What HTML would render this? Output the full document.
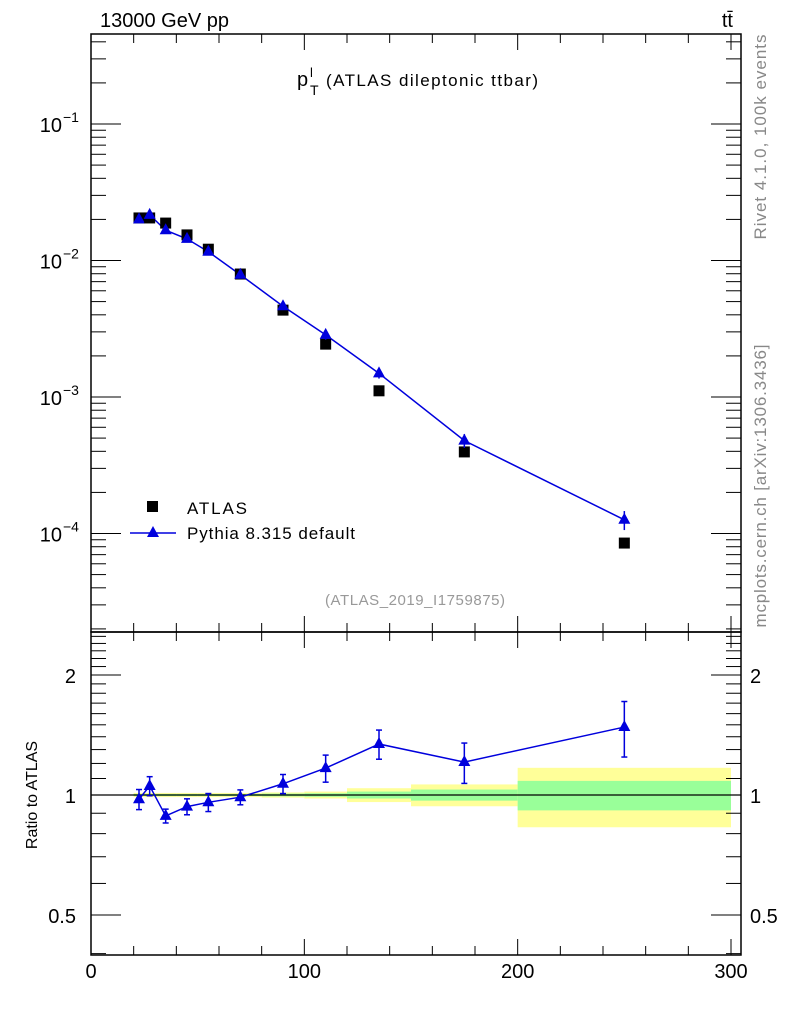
<!DOCTYPE html>
<html><head><meta charset="utf-8"><style>
body{margin:0;background:#fff;}
svg{display:block;font-family:"Liberation Sans",sans-serif;}
</style></head><body>
<svg id="c" width="786" height="1024" xmlns="http://www.w3.org/2000/svg"></svg>
<script>
const xCenters=[22.5,27.5,35,45,55,70,90,110,135,175,250];
const atlasVals=[0.0205,0.0205,0.0188,0.0154,0.0121,0.00796,0.00433,0.00244,0.00111,0.000396,0.0000851];
const pythiaVals=[0.0200,0.0216,0.01666,0.0144,0.0116,0.00786,0.00462,0.00285,0.00149,0.000479,0.000126];
const pythiaRelErr=[0.058,0.055,0.04,0.046,0.052,0.043,0.055,0.078,0.084,0.116,0.159];
const binEdges=[20,25,30,40,50,60,80,100,120,150,200,300];
const bandYellow=[0.012,0.012,0.012,0.012,0.012,0.012,0.015,0.02,0.04,0.063,0.17];
const bandGreen=[0.006,0.006,0.006,0.006,0.006,0.006,0.008,0.01,0.02,0.032,0.085];
const xTicks=[0,100,200,300];
const yDecades=[-1,-2,-3,-4];
const rTicks=[0.5,1,2];

const NS="http://www.w3.org/2000/svg";
const svg=document.getElementById('c');
function el(t,a,txt){const e=document.createElementNS(NS,t);for(const k in a)e.setAttribute(k,a[k]);if(txt!==undefined)e.textContent=txt;svg.appendChild(e);return e;}
const L=91,R=741,T=34,MB=632,RB=955;
const X=v=>L+v*(731-91)/300;
const LY=v=>124-(Math.log10(v)+1)*136.5;
const RY=v=>795-Math.log2(v)*120;

for(let i=0;i<binEdges.length-1;i++){
  let r=el('rect',{x:X(binEdges[i]),y:RY(1+bandYellow[i]),width:X(binEdges[i+1])-X(binEdges[i]),height:RY(1-bandYellow[i])-RY(1+bandYellow[i]),fill:'#ffff99'});
  
  let g=el('rect',{x:X(binEdges[i]),y:RY(1+bandGreen[i]),width:X(binEdges[i+1])-X(binEdges[i]),height:RY(1-bandGreen[i])-RY(1+bandGreen[i]),fill:'#99ff99'});
  
}
let one=el('line',{x1:L,x2:R,y1:RY(1),y2:RY(1),stroke:'#000','stroke-width':1.2});


let f1=el('rect',{x:L,y:T,width:R-L,height:MB-T,fill:'none',stroke:'#000','stroke-width':1.5});

let f2=el('rect',{x:L,y:MB,width:R-L,height:RB-MB,fill:'none',stroke:'#000','stroke-width':1.5});


for(let v=0;v<=300;v+=20){
  const maj=v%100===0, len=maj?16:9;
  [[T,1],[MB,-1],[MB,1],[RB,-1]].forEach(([y,d])=>el('line',{x1:X(v),x2:X(v),y1:y,y2:y+d*len,stroke:'#000'}));
}
xTicks.forEach(v=>{const t=el('text',{x:X(v),y:978,'font-size':20,'text-anchor':'middle'},String(v));});

for(let d=-5;d<=0;d++)for(let m=1;m<=9;m++){
  const v=m*Math.pow(10,d),y=LY(v); if(y<T||y>MB)continue;
  const len=m===1?30:15;
  el('line',{x1:L,x2:L+len,y1:y,y2:y,stroke:'#000'});el('line',{x1:R,x2:R-len,y1:y,y2:y,stroke:'#000'});
}
yDecades.forEach(d=>{const t=el('text',{x:62,y:LY(Math.pow(10,d))+8,'font-size':20,'text-anchor':'end'},'10');
  
  const s=el('text',{x:63,y:LY(Math.pow(10,d))-2,'font-size':14},'\u2212'+(-d));});

for(let v=0.4;v<=2.6;v+=0.1){const y=RY(v);if(y<MB||y>RB)continue;
  const maj=[0.5,1,2].some(t=>Math.abs(t-v)<1e-6),len=maj?30:15;
  el('line',{x1:L,x2:L+len,y1:y,y2:y,stroke:'#000'});el('line',{x1:R,x2:R-len,y1:y,y2:y,stroke:'#000'});}
rTicks.forEach(v=>{const a=el('text',{x:76,y:RY(v)+8,'font-size':20,'text-anchor':'end'},String(v));
  const b=el('text',{x:750,y:RY(v)+8,'font-size':20},String(v));});

let pl=el('polyline',{points:xCenters.map((x,i)=>X(x)+','+LY(pythiaVals[i])).join(' '),fill:'none',stroke:'#0000dd','stroke-width':1.5});

xCenters.forEach((x,i)=>{
  const s=el('rect',{x:X(x)-5.5,y:LY(atlasVals[i])-5.5,width:11,height:11,fill:'#000'});
  
  const v=pythiaVals[i],e=pythiaRelErr[i],cx=X(x);
  el('line',{x1:cx,x2:cx,y1:LY(v*(1+e)),y2:LY(v*(1-e)),stroke:'#0000dd','stroke-width':1.5});
  const p=el('polygon',{points:`${cx},${LY(v)-7} ${cx-6},${LY(v)+4} ${cx+6},${LY(v)+4}`,fill:'#0000dd'});
  
});
const ratios=xCenters.map((x,i)=>pythiaVals[i]/atlasVals[i]);
let rl=el('polyline',{points:xCenters.map((x,i)=>X(x)+','+RY(ratios[i])).join(' '),fill:'none',stroke:'#0000dd','stroke-width':1.5});

xCenters.forEach((x,i)=>{
  const r=ratios[i],e=pythiaRelErr[i],cx=X(x),y1=RY(r*(1+e)),y2=RY(r*(1-e));
  el('line',{x1:cx,x2:cx,y1:y1,y2:y2,stroke:'#0000dd','stroke-width':1.5});
  el('line',{x1:cx-3,x2:cx+3,y1:y1,y2:y1,stroke:'#0000dd','stroke-width':1.5});
  el('line',{x1:cx-3,x2:cx+3,y1:y2,y2:y2,stroke:'#0000dd','stroke-width':1.5});
  const p=el('polygon',{points:`${cx},${RY(r)-7} ${cx-6},${RY(r)+4} ${cx+6},${RY(r)+4}`,fill:'#0000dd'});
  
});

let ls=el('rect',{x:147,y:501,width:11,height:11,fill:'#000'});
let lt=el('text',{x:187,y:514,'font-size':17,textLength:60},'ATLAS');
el('line',{x1:130,x2:176,y1:533,y2:533,stroke:'#0000dd','stroke-width':1.5});
el('polygon',{points:'153,526 147,537 159,537',fill:'#0000dd'});
let lp=el('text',{x:187,y:539,'font-size':17,textLength:168},'Pythia 8.315 default');

let t1=el('text',{x:100,y:27,'font-size':20},'13000 GeV pp');
let t2=el('text',{x:733,y:27,'font-size':20,'text-anchor':'end'},'tt\u0304');
let t3=el('text',{x:297,y:86,'font-size':20},'p');
el('text',{x:310,y:77,'font-size':13},'l');el('text',{x:310,y:95,'font-size':14},'T');
el('text',{x:326,y:86,'font-size':17,textLength:212},'(ATLAS dileptonic ttbar)');
let t4=el('text',{x:325,y:605,'font-size':15,fill:'#999',textLength:180},'(ATLAS_2019_I1759875)');
let t5=el('text',{x:0,y:0,'font-size':17,fill:'#888','text-anchor':'middle',textLength:205,transform:'translate(766,137) rotate(-90)'},'Rivet 4.1.0,  100k events');
let t6=el('text',{x:0,y:0,'font-size':17,fill:'#888','text-anchor':'middle',textLength:283,transform:'translate(766,486) rotate(-90)'},'mcplots.cern.ch [arXiv:1306.3436]');
let t7=el('text',{x:0,y:0,'font-size':16,'text-anchor':'middle',transform:'translate(37,795) rotate(-90)'},'Ratio to ATLAS');
</script>
</body></html>
